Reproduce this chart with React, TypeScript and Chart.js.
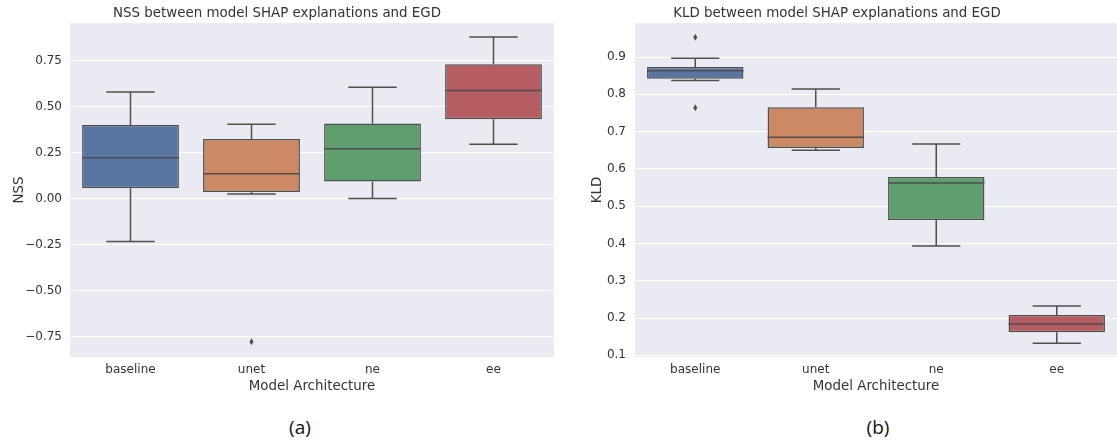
import React, { useEffect, useRef } from "react";
import { Chart, registerables } from "chart.js";

Chart.register(...registerables);

// ---------- data ----------
const CATEGORIES = ["baseline", "unet", "ne", "ee"];
const BOX_COLORS = ["#5975a4", "#cc8963", "#5f9e6e", "#b55d60"];

const NSS_LOW = [-0.232, 0.026, 0.002, 0.297];
const NSS_Q1 = [0.058, 0.038, 0.094, 0.433];
const NSS_MEDIAN = [0.224, 0.136, 0.272, 0.589];
const NSS_Q3 = [0.402, 0.325, 0.409, 0.732];
const NSS_HIGH = [0.58, 0.406, 0.607, 0.879];
const NSS_OUTLIERS: number[][] = [[], [-0.776], [], []];
const NSS_TICKS = [-0.75, -0.5, -0.25, 0, 0.25, 0.5, 0.75];

const KLD_LOW = [0.837, 0.65, 0.393, 0.132];
const KLD_Q1 = [0.842, 0.656, 0.463, 0.162];
const KLD_MEDIAN = [0.863, 0.685, 0.562, 0.184];
const KLD_Q3 = [0.873, 0.765, 0.578, 0.208];
const KLD_HIGH = [0.897, 0.814, 0.667, 0.232];
const KLD_OUTLIERS: number[][] = [[0.953, 0.764], [], [], []];
const KLD_TICKS = [0.1, 0.2, 0.3, 0.4, 0.5, 0.6, 0.7, 0.8, 0.9];

// ---------- styles ----------
const FONT = "'DejaVu Sans', sans-serif";
const TEXT = "#333333";
const LINE = "#4f4f4f";
const BG = "#eaeaf2";

type Stats = {
  low: number[];
  q1: number[];
  median: number[];
  q3: number[];
  high: number[];
  outliers: number[][];
};

function makeBoxPlugin(stats: Stats) {
  return {
    id: "boxWhiskers",
    beforeDraw(chart: any) {
      const { ctx, chartArea } = chart;
      ctx.save();
      ctx.fillStyle = BG;
      ctx.fillRect(chartArea.left, chartArea.top, chartArea.right - chartArea.left, chartArea.bottom - chartArea.top);
      ctx.restore();
    },
    afterDatasetsDraw(chart: any) {
      const { ctx } = chart;
      const y = chart.scales.y;
      const meta = chart.getDatasetMeta(0);
      ctx.save();
      ctx.strokeStyle = LINE;
      ctx.fillStyle = LINE;
      ctx.lineWidth = 1.5;
      meta.data.forEach((el: any, i: number) => {
        const cx = el.x;
        const w = el.width;
        const capHalf = w / 4;
        const yLow = y.getPixelForValue(stats.low[i]);
        const yQ1 = y.getPixelForValue(stats.q1[i]);
        const yMed = y.getPixelForValue(stats.median[i]);
        const yQ3 = y.getPixelForValue(stats.q3[i]);
        const yHigh = y.getPixelForValue(stats.high[i]);
        ctx.beginPath();
        ctx.moveTo(cx, yQ3);
        ctx.lineTo(cx, yHigh);
        ctx.moveTo(cx, yQ1);
        ctx.lineTo(cx, yLow);
        ctx.moveTo(cx - capHalf, yHigh);
        ctx.lineTo(cx + capHalf, yHigh);
        ctx.moveTo(cx - capHalf, yLow);
        ctx.lineTo(cx + capHalf, yLow);
        ctx.moveTo(cx - w / 2, yMed);
        ctx.lineTo(cx + w / 2, yMed);
        ctx.stroke();
        stats.outliers[i].forEach((v) => {
          const py = y.getPixelForValue(v);
          ctx.beginPath();
          ctx.moveTo(cx, py - 3.5);
          ctx.lineTo(cx + 2, py);
          ctx.lineTo(cx, py + 3.5);
          ctx.lineTo(cx - 2, py);
          ctx.closePath();
          ctx.fill();
        });
      });
      ctx.restore();
    },
  };
}

type BoxChartProps = {
  width: number;
  height: number;
  title: string;
  yTitle: string;
  yMin: number;
  yMax: number;
  ticks: number[];
  decimals: number;
  yAxisWidth: number;
  yTitlePad: number;
  yTickPad: number;
  rightPad: number;
  stats: Stats;
};

function fmt(v: number, d: number) {
  return v.toFixed(d).replace("-", "\u2212");
}

function BoxChart(p: BoxChartProps) {
  const ref = useRef<HTMLCanvasElement>(null);
  useEffect(() => {
    if (!ref.current) return;
    const tickFont = { family: FONT, size: 12, weight: "normal" as const };
    const labelFont = { family: FONT, size: 13.4, weight: "normal" as const };
    const chart = new Chart(ref.current, {
      type: "bar",
      data: {
        labels: CATEGORIES,
        datasets: [
          {
            data: p.stats.q1.map((q, i) => [q, p.stats.q3[i]]) as any,
            backgroundColor: BOX_COLORS,
            borderColor: LINE,
            borderWidth: 1.5,
            borderSkipped: false,
            barPercentage: 0.8,
            categoryPercentage: 1.0,
          },
        ],
      },
      options: {
        responsive: false,
        animation: false,
        layout: { padding: { left: 0, right: p.rightPad, top: 0, bottom: 0 } },
        plugins: {
          legend: { display: false },
          tooltip: { enabled: false },
          title: {
            display: true,
            text: p.title,
            color: TEXT,
            font: labelFont,
            padding: { top: 5.3, bottom: 1.7 },
          },
        },
        scales: {
          x: {
            type: "category",
            offset: true,
            grid: { display: false, drawTicks: false },
            border: { display: false },
            ticks: { color: TEXT, font: tickFont, padding: 6, maxRotation: 0 },
            title: {
              display: true,
              text: "Model Architecture",
              color: TEXT,
              font: labelFont,
              padding: { top: 0, bottom: 5 },
            },
            afterFit: (s: any) => {
              s.height = 43;
            },
          },
          y: {
            type: "linear",
            min: p.yMin,
            max: p.yMax,
            grid: { color: "#ffffff", lineWidth: 1, drawTicks: false },
            border: { display: false },
            ticks: {
              color: TEXT,
              font: tickFont,
              padding: p.yTickPad,
              callback: (v: any) => fmt(Number(v), p.decimals),
            },
            afterBuildTicks: (s: any) => {
              s.ticks = p.ticks.map((v) => ({ value: v }));
            },
            title: {
              display: true,
              text: p.yTitle,
              color: TEXT,
              font: labelFont,
              padding: { top: p.yTitlePad, bottom: 0 },
            },
            afterFit: (s: any) => {
              s.width = p.yAxisWidth;
            },
          },
        },
      },
      plugins: [makeBoxPlugin(p.stats)],
    });
    return () => chart.destroy();
  }, []);
  return (
    <canvas
      ref={ref}
      width={p.width}
      height={p.height}
      style={{ display: "block", width: p.width, height: p.height }}
    />
  );
}

const captionStyle: React.CSSProperties = {
  position: "absolute",
  top: 413,
  width: 100,
  textAlign: "center",
  fontFamily: "'Open Sans', 'Liberation Sans', sans-serif",
  fontSize: 19,
  lineHeight: "28px",
  color: "#111",
};

export default function App() {
  return (
    <div
      style={{
        position: "absolute",
        left: 0,
        top: 0,
        width: 1117,
        height: 441,
        background: "#ffffff",
        overflow: "hidden",
      }}
    >
      <div style={{ position: "absolute", left: 0, top: 0 }}>
        <BoxChart
          width={557}
          height={400}
          title="NSS between model SHAP explanations and EGD"
          yTitle="NSS"
          yMin={-0.859}
          yMax={0.955}
          ticks={NSS_TICKS}
          decimals={2}
          yAxisWidth={70}
          yTitlePad={11}
          yTickPad={8}
          rightPad={3}
          stats={{
            low: NSS_LOW,
            q1: NSS_Q1,
            median: NSS_MEDIAN,
            q3: NSS_Q3,
            high: NSS_HIGH,
            outliers: NSS_OUTLIERS,
          }}
        />
      </div>
      <div style={{ position: "absolute", left: 557, top: 0 }}>
        <BoxChart
          width={560}
          height={400}
          title="KLD between model SHAP explanations and EGD"
          yTitle="KLD"
          yMin={0.0954}
          yMax={0.991}
          ticks={KLD_TICKS}
          decimals={1}
          yAxisWidth={78}
          yTitlePad={32}
          yTickPad={9}
          rightPad={0}
          stats={{
            low: KLD_LOW,
            q1: KLD_Q1,
            median: KLD_MEDIAN,
            q3: KLD_Q3,
            high: KLD_HIGH,
            outliers: KLD_OUTLIERS,
          }}
        />
      </div>
      <div style={{ ...captionStyle, left: 250 }}>(a)</div>
      <div style={{ ...captionStyle, left: 828 }}>(b)</div>
    </div>
  );
}
